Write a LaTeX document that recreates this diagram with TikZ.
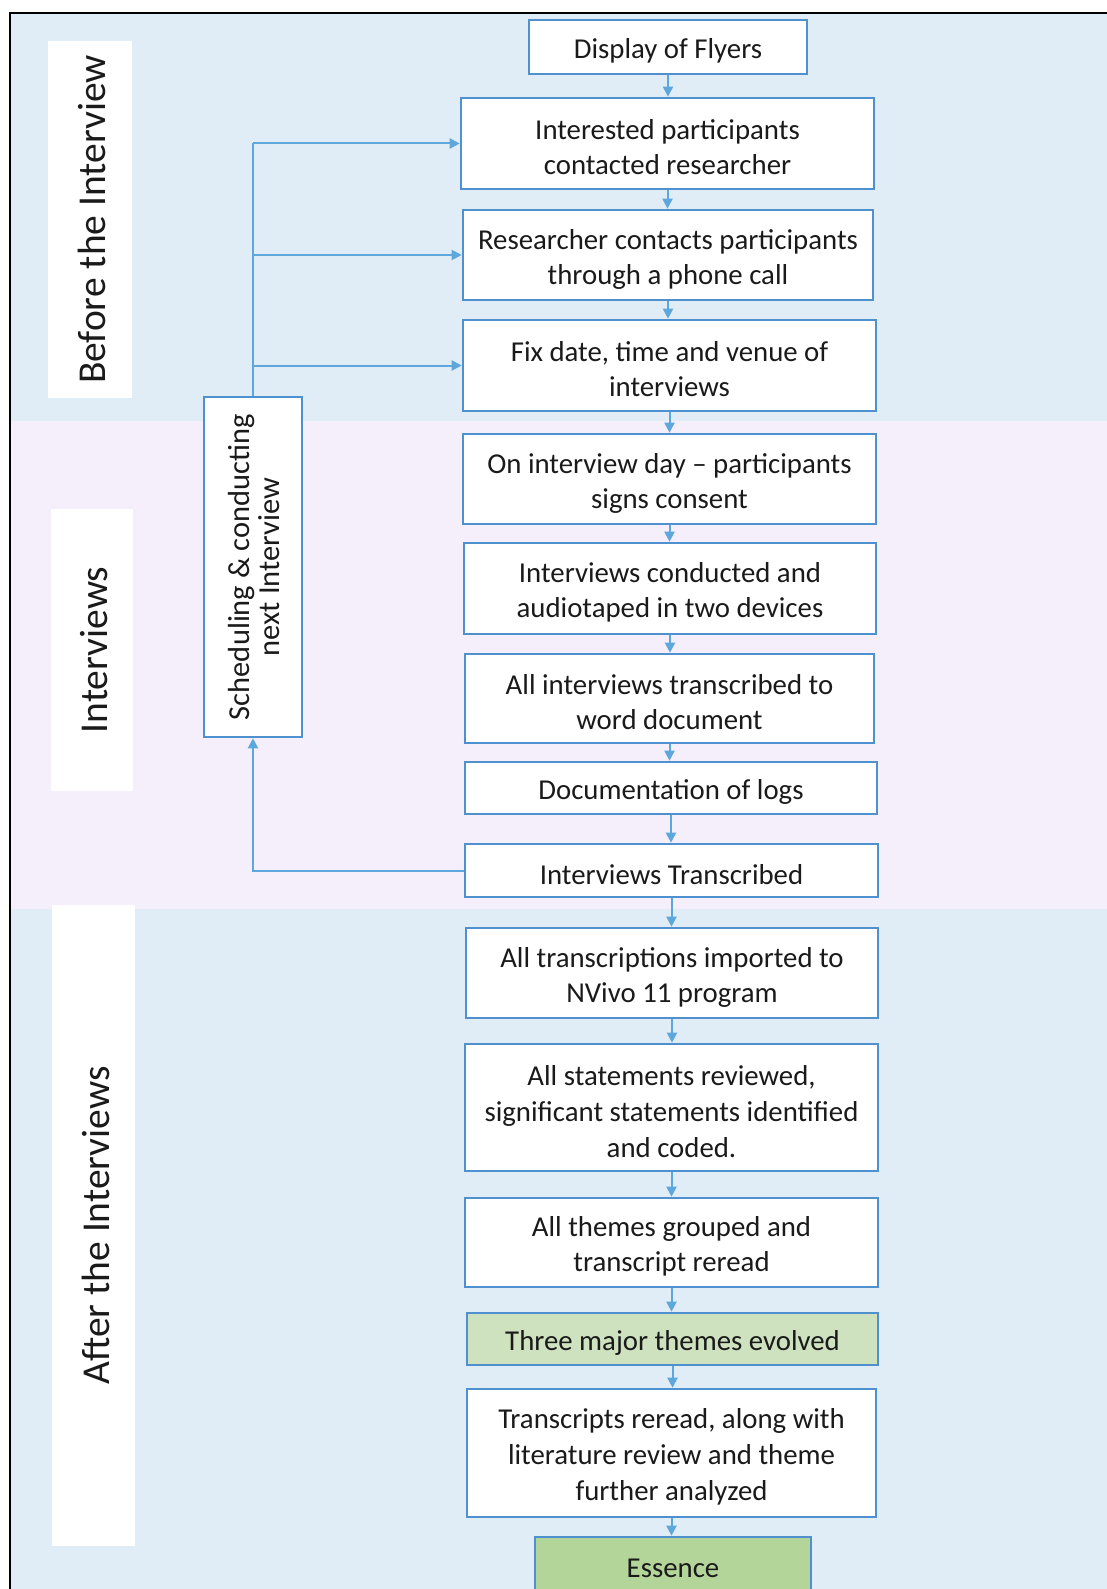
\documentclass[tikz,border=0pt]{standalone}
\usepackage{fontspec}
\setmainfont{Carlito}
\usetikzlibrary{arrows.meta}
\definecolor{bandblue}{HTML}{E1EDF6}
\definecolor{bandpink}{HTML}{F5EFFC}
\definecolor{boxline}{HTML}{4F91CF}
\definecolor{arrowc}{HTML}{5EA7DD}
\definecolor{greenA}{HTML}{CFE2C0}
\definecolor{greenB}{HTML}{B3D59A}
\definecolor{txt}{HTML}{1A1A1A}
\tikzset{
  flowbox/.style={draw=boxline, line width=2.6pt, fill=white, inner sep=0pt},
  boxtext/.style={align=center, text=txt, inner sep=0pt, yshift=-4pt,
    font=\fontsize{28.8}{35}\selectfont},
  lanelabel/.style={fill=white, inner sep=0pt},
  lanetext/.style={rotate=90, text=txt, font=\fontsize{39.5}{46}\selectfont},
  conn/.style={draw=arrowc, line width=2pt},
  arr/.style={conn, -{Triangle[length=10pt,width=10pt]}},
}
\begin{document}
\begin{tikzpicture}[x=1pt,y=-1pt]
\useasboundingbox (0,0) rectangle (1107,1589);
% bands
\fill[bandblue] (10,13) rectangle (1120,421);
\fill[bandpink] (10,421) rectangle (1120,909);
\fill[bandblue] (10,909) rectangle (1120,1600);
\draw[black, line width=2.6pt] (10,1600) -- (10,13) -- (1120,13);
% lane labels
\node[lanelabel, minimum width=84pt, minimum height=357pt] (lab1) at (90,219.5) {};
\node[lanetext] (lab1t) at ([xshift=2pt]lab1.center) {Before the Interview};
\node[lanelabel, minimum width=82pt, minimum height=282pt] (lab2) at (92,650) {};
\node[lanetext] (lab2t) at ([xshift=2pt]lab2.center) {Interviews};
\node[lanelabel, minimum width=83pt, minimum height=641pt] (lab3) at (93.5,1225.5) {};
\node[lanetext] (lab3t) at ([xshift=2pt]lab3.center) {After the Interviews};
% flow boxes
\node[flowbox, minimum width=278pt, minimum height=54pt] (n1) at (668,47) {};
\node[flowbox, minimum width=413pt, minimum height=91pt] (n2) at (667.5,143.5) {};
\node[flowbox, minimum width=410pt, minimum height=90pt] (n3) at (668,255) {};
\node[flowbox, minimum width=413pt, minimum height=91pt] (n4) at (669.5,365.5) {};
\node[flowbox, minimum width=413pt, minimum height=90pt] (n5) at (669.5,479) {};
\node[flowbox, minimum width=412pt, minimum height=91pt] (n6) at (670,588.5) {};
\node[flowbox, minimum width=409pt, minimum height=89pt] (n7) at (669.5,698.5) {};
\node[flowbox, minimum width=412pt, minimum height=52pt] (n8) at (671,788) {};
\node[flowbox, minimum width=413pt, minimum height=53pt] (n9) at (671.5,870.5) {};
\node[flowbox, minimum width=412pt, minimum height=90pt] (n10) at (672,973) {};
\node[flowbox, minimum width=413pt, minimum height=127pt] (n11) at (671.5,1107.5) {};
\node[flowbox, minimum width=413pt, minimum height=89pt] (n12) at (671.5,1242.5) {};
\node[flowbox, fill=greenA, minimum width=411pt, minimum height=52pt] (n13) at (672.5,1339) {};
\node[flowbox, minimum width=409pt, minimum height=128pt] (n14) at (671.5,1453) {};
\node[flowbox, fill=greenB, minimum width=276pt, minimum height=54pt] (n15) at (673,1564) {};
% box texts
\node[boxtext] (t1) at (n1.center) {Display of Flyers};
\node[boxtext] (t2) at (n2.center) {Interested participants\\contacted researcher};
\node[boxtext] (t3) at (n3.center) {Researcher contacts participants\\through a phone call};
\node[boxtext] (t4) at (n4.center) {Fix date, time and venue of\\interviews};
\node[boxtext] (t5) at (n5.center) {On interview day -- participants\\signs consent};
\node[boxtext] (t6) at (n6.center) {Interviews conducted and\\audiotaped in two devices};
\node[boxtext] (t7) at (n7.center) {All interviews transcribed to\\word document};
\node[boxtext] (t8) at (n8.center) {Documentation of logs};
\node[boxtext] (t9) at (n9.center) {Interviews Transcribed};
\node[boxtext] (t10) at (n10.center) {All transcriptions imported to\\NVivo 11 program};
\node[boxtext, font=\fontsize{28.8}{36}\selectfont] (t11) at (n11.center) {All statements reviewed,\\significant statements identified\\and coded.};
\node[boxtext] (t12) at (n12.center) {All themes grouped and\\transcript reread};
\node[boxtext] (t13) at (n13.center) {Three major themes evolved};
\node[boxtext, font=\fontsize{28.8}{36}\selectfont] (t14) at (n14.center) {Transcripts reread, along with\\literature review and theme\\further analyzed};
\node[boxtext] (t15) at (n15.center) {Essence};
% scheduling box
\node[flowbox, minimum width=98pt, minimum height=340pt] (sch) at (253,567) {};
\node[rotate=90, align=center, text=txt, inner sep=0pt, font=\fontsize{30.5}{30}\selectfont] (scht) at ([xshift=1pt]sch.center) {Scheduling \& conducting\\next Interview};
% vertical arrows
\foreach \a/\b in {n1/n2,n2/n3,n3/n4,n4/n5,n5/n6,n6/n7,n7/n8,n8/n9,n9/n10,n10/n11,n11/n12,n12/n13,n13/n14,n14/n15}
  \draw[arr] (\a.south) -- (\a.south |- \b.north);
% feedback loop
\draw[conn] (sch.north) -- (sch.north |- n2.west);
\draw[arr] (sch.north |- n2.west) -- (n2.west);
\draw[arr] (sch.north |- n3.west) -- (n3.west);
\draw[arr] (sch.north |- n4.west) -- (n4.west);
\draw[arr] (n9.west) -| (sch.south);
\end{tikzpicture}
\end{document}
